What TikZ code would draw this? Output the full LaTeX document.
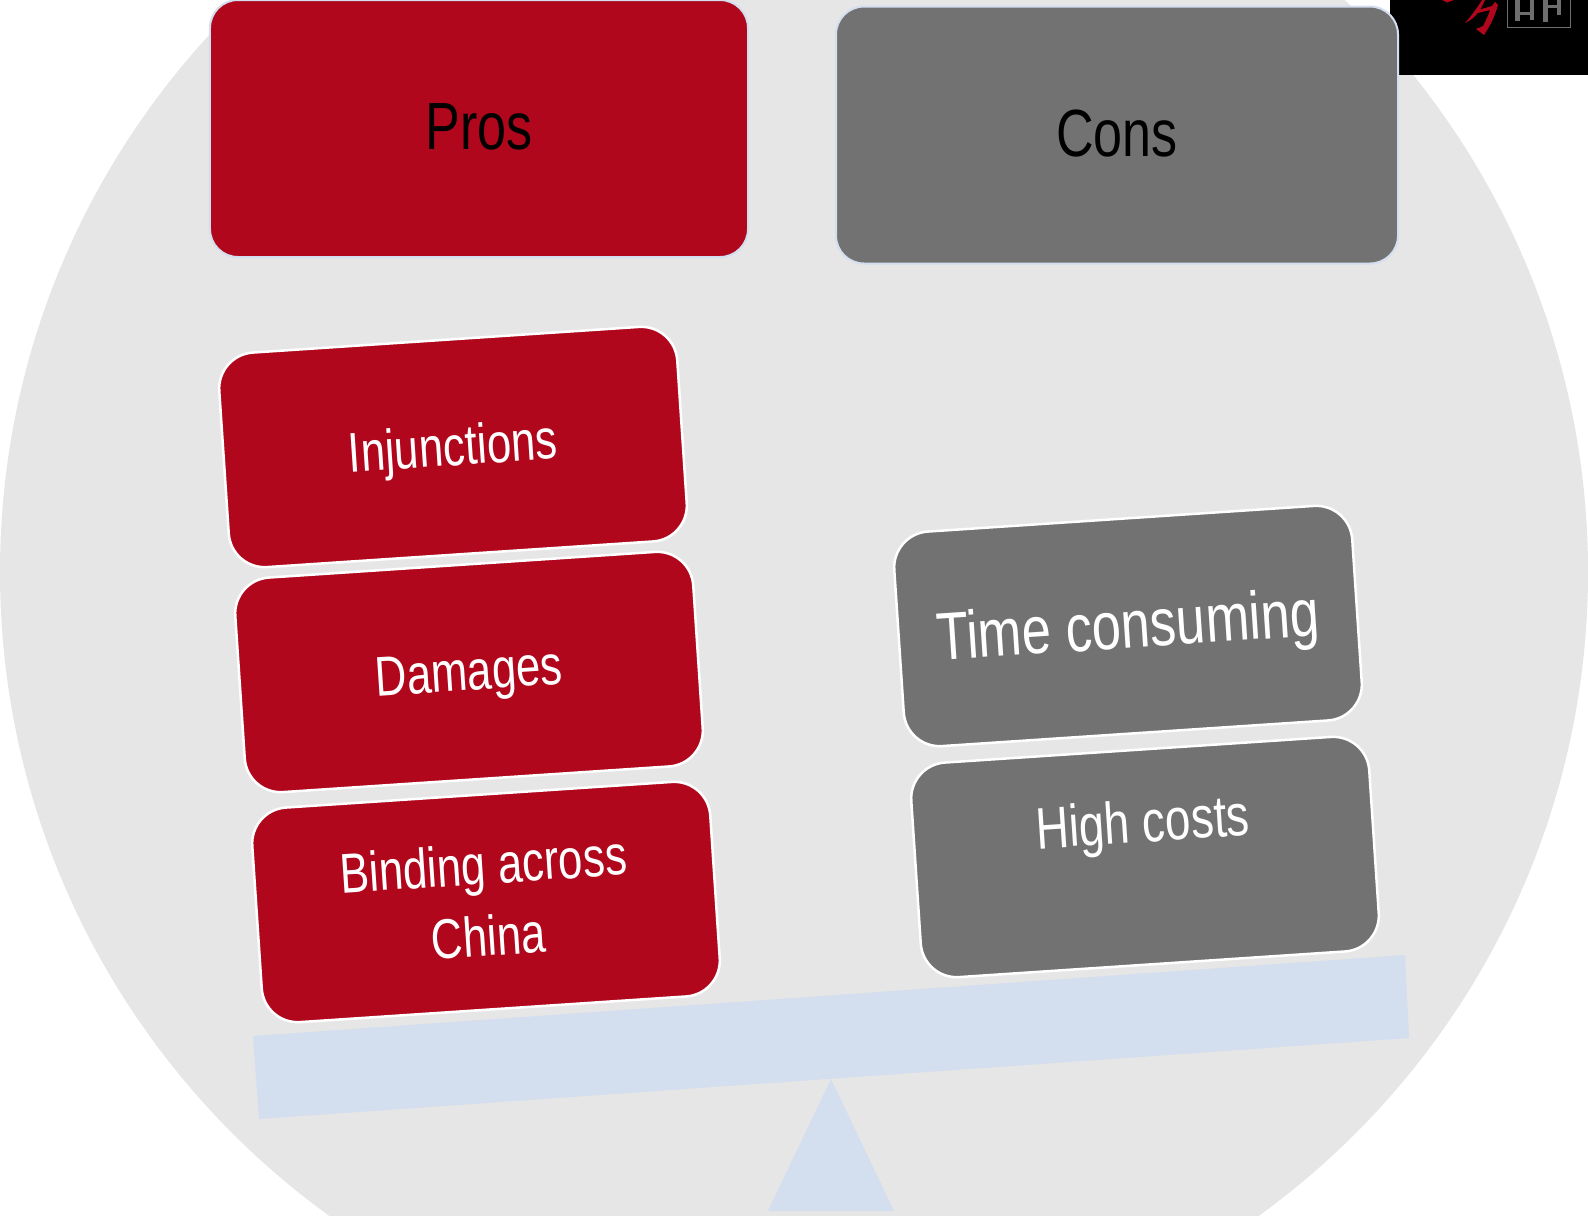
\documentclass[tikz,border=0pt]{standalone}
\usepackage{fontspec}
\setmainfont[FakeStretch=0.78]{Liberation Sans}
\definecolor{bgc}{HTML}{E7E6E6}
\definecolor{redc}{HTML}{B1071C}
\definecolor{grayc}{HTML}{727272}
\definecolor{bluec}{HTML}{D3DEEF}
\definecolor{logog}{HTML}{6E6E6E}
\tikzset{
  head/.style={draw=bluec,line width=2bp,rounded corners=28bp,minimum width=#1,minimum height=257bp,inner sep=0pt,text=black,text depth=4bp,font=\fontsize{67}{70}\selectfont},
  tilt/.style={draw=white,line width=2.5bp,rounded corners=36bp,minimum width=459bp,minimum height=215bp,rotate=3.8,text=white,align=center,font=\fontsize{56.3}{72}\selectfont,inner sep=0pt},
  tiltb/.style={tilt,font=\fontsize{67.6}{72}\selectfont}
}
\begin{document}
\begin{tikzpicture}[x=1bp,y=-1bp]
\useasboundingbox (0,0) rectangle (1588,1215);
\clip (0,0) rectangle (1588,1215);
\fill[bgc] (794,572) circle[radius=794];
\coordinate (bA) at (253,1036);
\coordinate (bB) at (1405,955);
\coordinate (bC) at (1409,1038);
\coordinate (bD) at (259,1119);
\fill[bluec] (bA)--(bB)--(bC)--(bD)--cycle;
\fill[bluec] (831,1079)--(894,1211)--(768,1211)--cycle;
% logo fragment
\fill[black] (1390,0) rectangle (1588,75);
\fill[redc] (1442,0)--(1454,0)--(1447,2.5)--cycle;
\fill[redc] (1482,0)--(1485,0) .. controls (1480,12) and (1474,19) .. (1465,23) .. controls (1472,15) and (1477,8) .. (1482,0)--cycle;
\fill[redc] (1478,10)--(1492,6)--(1495,2)--(1498,5) .. controls (1495,16) and (1490,26) .. (1484,35)--(1476,29)--(1483,26) .. controls (1486,20) and (1489,14) .. (1490,10)--(1478,13)--cycle;
\draw[logog,line width=1.6bp] (1507.5,0)--(1507.5,27.5)--(1570.5,27.5)--(1570.5,0);
\fill[logog] (1515,0) rectangle (1520,21);
\fill[logog] (1520,12) rectangle (1531,15);
\fill[logog] (1530,0) rectangle (1534,20);
\fill[logog] (1543,0) rectangle (1548,22);
\fill[logog] (1548,5) rectangle (1557,8);
\fill[logog] (1557,0) rectangle (1561,15);
\node[head=538bp,fill=redc] (pros) at (479,128.5) {Pros};
\node[head=562bp,fill=grayc] (cons) at (1117,135) {Cons};
\node[tilt,fill=redc,text height=42bp,text depth=5bp] (inj) at (453,447) {Injunctions};
\node[tilt,fill=redc,text height=44bp,text depth=8bp] (dam) at (469,672) {Damages};
\node[tilt,fill=redc,text depth=5bp] (bind) at (486,902) {Binding across\\China};
\node[tiltb,fill=grayc,text height=50bp,text depth=6bp] (time) at (1128,626) {Time consuming};
\node[tilt,fill=grayc,font=\fontsize{59}{72}\selectfont,text height=-20bp,text depth=30bp] (high) at (1145,857) {High costs};
\end{tikzpicture}
\end{document}
